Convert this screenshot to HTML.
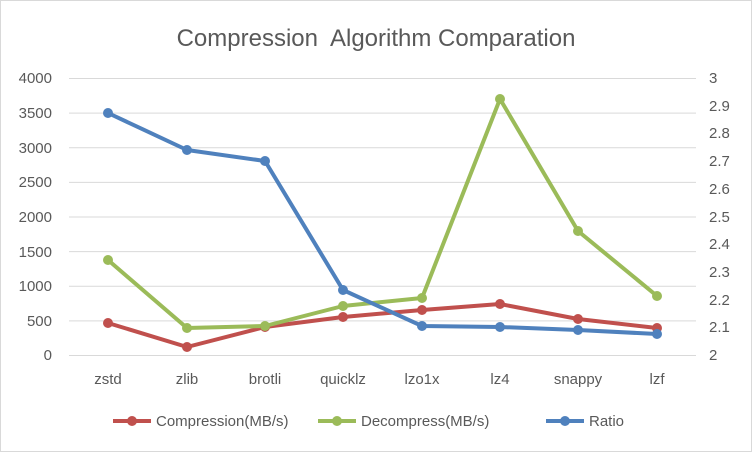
<!DOCTYPE html>
<html><head><style>body{margin:0;background:#fff}svg{display:block}text{font-family:"Liberation Sans",sans-serif;fill:#595959}</style></head><body>
<svg width="752" height="452" viewBox="0 0 752 452" xmlns="http://www.w3.org/2000/svg">
<rect x="0.5" y="0.5" width="751" height="451" fill="#fff" stroke="#d9d9d9"/>
<text x="376" y="46" font-size="24" text-anchor="middle">Compression&#160; Algorithm Comparation</text>
<g stroke="#d9d9d9" stroke-width="1">
<line x1="69" x2="696" y1="78.5" y2="78.5"/><line x1="69" x2="696" y1="113.1" y2="113.1"/><line x1="69" x2="696" y1="147.8" y2="147.8"/><line x1="69" x2="696" y1="182.4" y2="182.4"/><line x1="69" x2="696" y1="217" y2="217"/><line x1="69" x2="696" y1="251.6" y2="251.6"/><line x1="69" x2="696" y1="286.3" y2="286.3"/><line x1="69" x2="696" y1="320.9" y2="320.9"/><line x1="69" x2="696" y1="355.5" y2="355.5"/>
</g>
<g font-size="15" text-anchor="end">
<text x="52" y="83">4000</text><text x="52" y="118">3500</text><text x="52" y="153">3000</text><text x="52" y="187">2500</text><text x="52" y="222">2000</text><text x="52" y="257">1500</text><text x="52" y="291">1000</text><text x="52" y="326">500</text><text x="52" y="360">0</text>
</g>
<g font-size="15">
<text x="709" y="83">3</text><text x="709" y="111">2.9</text><text x="709" y="138">2.8</text><text x="709" y="166">2.7</text><text x="709" y="194">2.6</text><text x="709" y="222">2.5</text><text x="709" y="249">2.4</text><text x="709" y="277">2.3</text><text x="709" y="305">2.2</text><text x="709" y="332">2.1</text><text x="709" y="360">2</text>
</g>
<g font-size="15" text-anchor="middle">
<text x="108" y="384">zstd</text><text x="187" y="384">zlib</text><text x="265" y="384">brotli</text><text x="343" y="384">quicklz</text><text x="422" y="384">lzo1x</text><text x="500" y="384">lz4</text><text x="578" y="384">snappy</text><text x="657" y="384">lzf</text>
</g>
<g fill="none" stroke-width="4" stroke-linejoin="round">
<polyline stroke="#c0504d" points="108,323 187,347 265,327 343,317 422,310 500,304 578,319 657,328"/>
<polyline stroke="#9bbb59" points="108,260 187,328 265,326 343,306 422,298 500,99 578,231 657,296"/>
<polyline stroke="#4f81bd" points="108,113 187,150 265,161 343,290 422,326 500,327 578,330 657,334"/>
</g>
<g fill="#c0504d"><circle cx="108" cy="323" r="5"/><circle cx="187" cy="347" r="5"/><circle cx="265" cy="327" r="5"/><circle cx="343" cy="317" r="5"/><circle cx="422" cy="310" r="5"/><circle cx="500" cy="304" r="5"/><circle cx="578" cy="319" r="5"/><circle cx="657" cy="328" r="5"/></g>
<g fill="#9bbb59"><circle cx="108" cy="260" r="5"/><circle cx="187" cy="328" r="5"/><circle cx="265" cy="326" r="5"/><circle cx="343" cy="306" r="5"/><circle cx="422" cy="298" r="5"/><circle cx="500" cy="99" r="5"/><circle cx="578" cy="231" r="5"/><circle cx="657" cy="296" r="5"/></g>
<g fill="#4f81bd"><circle cx="108" cy="113" r="5"/><circle cx="187" cy="150" r="5"/><circle cx="265" cy="161" r="5"/><circle cx="343" cy="290" r="5"/><circle cx="422" cy="326" r="5"/><circle cx="500" cy="327" r="5"/><circle cx="578" cy="330" r="5"/><circle cx="657" cy="334" r="5"/></g>
<g stroke-width="4">
<line x1="113" x2="151" y1="421" y2="421" stroke="#c0504d"/><circle cx="132" cy="421" r="5" fill="#c0504d"/>
<line x1="318" x2="356" y1="421" y2="421" stroke="#9bbb59"/><circle cx="337" cy="421" r="5" fill="#9bbb59"/>
<line x1="546" x2="584" y1="421" y2="421" stroke="#4f81bd"/><circle cx="565" cy="421" r="5" fill="#4f81bd"/>
</g>
<g font-size="15"><text x="156" y="426">Compression(MB/s)</text><text x="361" y="426">Decompress(MB/s)</text><text x="589" y="426">Ratio</text></g>
</svg>
</body></html>
